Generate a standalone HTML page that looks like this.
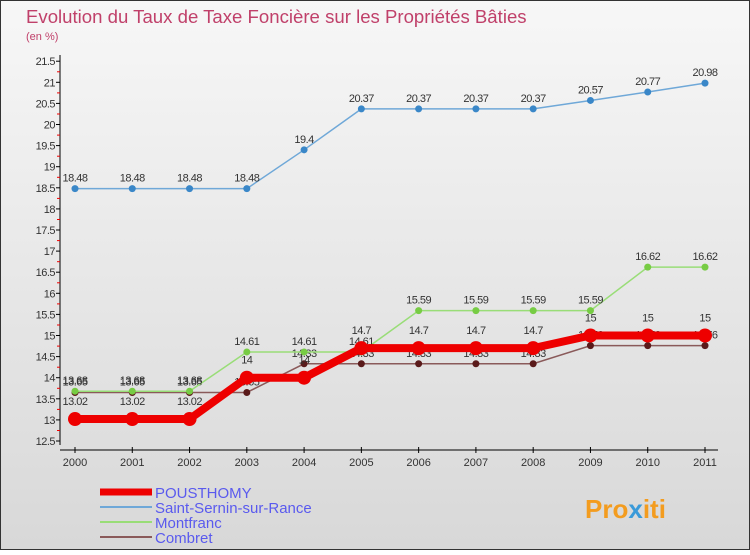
<!DOCTYPE html>
<html><head><meta charset="utf-8"><style>
body{margin:0;width:750px;height:550px;overflow:hidden;font-family:"Liberation Sans",sans-serif}
</style></head><body>
<svg id="c" width="750" height="550" xmlns="http://www.w3.org/2000/svg">
<defs><linearGradient id="bg" x1="0" y1="0" x2="0" y2="1"><stop offset="0" stop-color="#f7f7f7"/><stop offset="1" stop-color="#d8d8d8"/></linearGradient></defs>
<rect x="0.5" y="0.5" width="749" height="549" fill="url(#bg)" stroke="#333"/>
<text x="26" y="23" font-size="18.6" fill="#c0406a">Evolution du Taux de Taxe Foncière sur les Propriétés Bâties</text>
<text x="26" y="40" font-size="11" fill="#c0406a">(en %)</text>
<g id="axes"></g><g id="series"></g><g id="legend"></g>
<text x="585" y="518" font-size="26" font-weight="bold" fill="#f39c1f">Pro<tspan fill="#3a9ad9">x</tspan>iti</text>
</svg>
<script>
const years=[2000,2001,2002,2003,2004,2005,2006,2007,2008,2009,2010,2011];
const yTicks=[12.5,13,13.5,14,14.5,15,15.5,16,16.5,17,17.5,18,18.5,19,19.5,20,20.5,21,21.5];
const pousthomy=[13.02,13.02,13.02,14,14,14.7,14.7,14.7,14.7,15,15,15];
const saintSernin=[18.48,18.48,18.48,18.48,19.4,20.37,20.37,20.37,20.37,20.57,20.77,20.98];
const montfranc=[13.68,13.68,13.68,14.61,14.61,14.61,15.59,15.59,15.59,15.59,16.62,16.62];
const combret=[13.65,13.65,13.65,13.65,14.33,14.33,14.33,14.33,14.33,14.76,14.76,14.76];
const NS="http://www.w3.org/2000/svg";
const X=i=>75+i*(630/11);
const Y=v=>441-(v-12.5)*42.2;
function mk(t,a,p){const e=document.createElementNS(NS,t);for(const k in a)e.setAttribute(k,a[k]);p.appendChild(e);return e;}
const ax=document.getElementById('axes');
let l=mk('line',{x1:60,y1:55,x2:60,y2:445,stroke:'#000'},ax);

l=mk('line',{x1:60,y1:450,x2:718,y2:450,stroke:'#000'},ax);

yTicks.forEach((v,i)=>{const y=Y(v);
 mk('line',{x1:56,y1:y,x2:60,y2:y,stroke:'#000'},ax);
 if(i<yTicks.length-1)mk('line',{x1:57,y1:y-10.5,x2:60,y2:y-10.5,stroke:'#e00'},ax);
 const t=mk('text',{x:55,y:y+4,'font-size':11,'text-anchor':'end',fill:'#333','letter-spacing':'-0.5'},ax);t.textContent=v;
 });
years.forEach((yr,i)=>{const x=X(i);mk('line',{x1:x,y1:447,x2:x,y2:453,stroke:'#000'},ax);
 const t=mk('text',{x:x,y:466,'font-size':11,'text-anchor':'middle',fill:'#333'},ax);t.textContent=yr;
 });
const sg=document.getElementById('series');
const series=[
 {name:'saint-sernin',d:saintSernin,c:'#6fa8d8',w:1.5,r:3.5,dot:'#3a87c8',lab:-7},
 {name:'combret',d:combret,c:'#8a5a5a',w:1.5,r:3.5,dot:'#5a1a1a',lab:-7},
 {name:'montfranc',d:montfranc,c:'#99dd77',w:1.5,r:3.5,dot:'#77cc44',lab:-7},
 {name:'pousthomy',d:pousthomy,c:'#ee0000',w:8,r:7,dot:'#ee0000',lab:-14}];
series.forEach(s=>{
 const pts=s.d.map((v,i)=>X(i)+','+Y(v)).join(' ');
 const p=mk('polyline',{points:pts,fill:'none',stroke:s.c,'stroke-width':s.w},sg);
 
 s.d.forEach((v,i)=>{const c=mk('circle',{cx:X(i),cy:Y(v),r:s.r,fill:s.dot},sg);
  
  const t=mk('text',{x:X(i),y:Y(v)+s.lab,'font-size':11,'text-anchor':'middle',fill:'#333','letter-spacing':'-0.5'},sg);t.textContent=v;
  });
});
const lg=document.getElementById('legend');
[['POUSTHOMY','#ee0000',7],['Saint-Sernin-sur-Rance','#6fa8d8',2],['Montfranc','#99dd77',2],['Combret','#8a5a5a',2]].forEach((e,i)=>{
 const y=492+i*15;
 const ln=mk('line',{x1:100,y1:y,x2:152,y2:y,stroke:e[1],'stroke-width':e[2]},lg);
 
 const t=mk('text',{x:155,y:y+6,'font-size':15,fill:'#5a5aee'},lg);t.textContent=e[0];
 });
</script>
</body></html>
